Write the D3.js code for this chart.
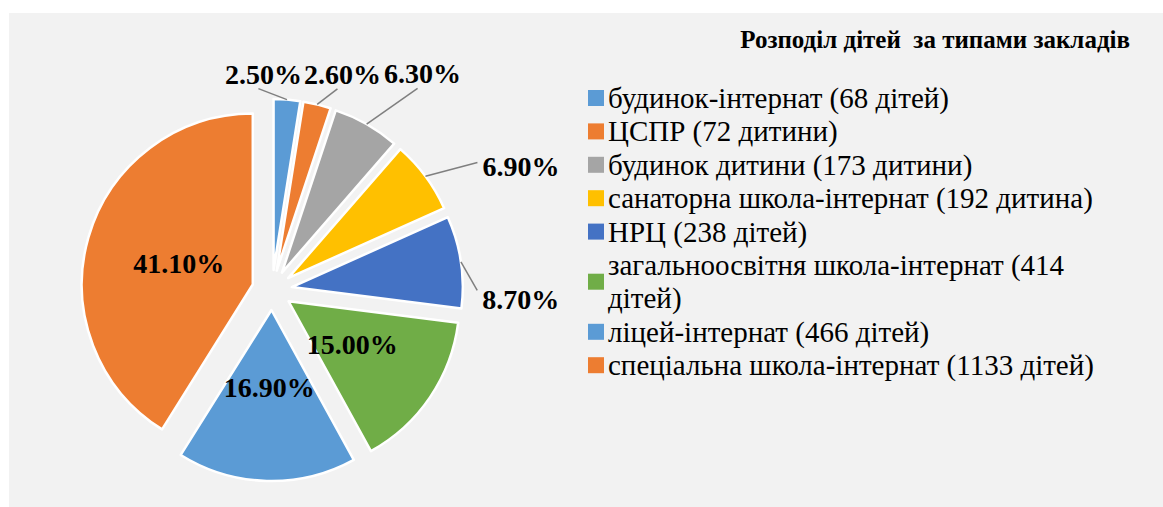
<!DOCTYPE html>
<html lang="uk"><head><meta charset="utf-8">
<script src="https://cdn.jsdelivr.net/npm/d3@7/dist/d3.min.js"></script></head>
<body style="margin:0">
<script>
// data
var categories=["будинок-інтернат (68 дітей)","ЦСПР (72 дитини)","будинок дитини (173 дитини)",
	"санаторна школа-інтернат (192 дитина)","НРЦ (238 дітей)","загальноосвітня школа-інтернат (414 дітей)",
	"ліцей-інтернат (466 дітей)","спеціальна школа-інтернат (1133 дітей)"];
var shares=[2.5,2.6,6.3,6.9,8.7,15.0,16.9,41.1];
var colors=["#5b9bd5","#ed7d31","#a5a5a5","#ffc000","#4472c4","#70ad47","#5b9bd5","#ed7d31"];
var title="Розподіл дітей  за типами закладів";

var width=1163, height=507;
var cx=272, cy=290, radius=171, explode=20;
var insideLimit=12; // slices bigger than this get the label inside
// label shifts from the default outside spot (layout only)
var labelShift=[[-25,-8],[21,-13],[47,-35],[81,0],[42,40],[0,0],[0,0],[0,0]];
var serif="Liberation Serif";

var svg=d3.select("body").append("svg").attr("width",width).attr("height",height);
svg.append("rect").attr("x",9).attr("y",13).attr("width",width-9).attr("height",height-13).attr("fill","#f2f2f2");

// legend first, wraps long entries
var legX=588, legY=98, lineH=33.4, maxW=510, fs=29, line=0;
categories.forEach(function(c,i){
	var words=c.split(" "), rows=[], cur="";
	var probe=svg.append("text").attr("x",0).attr("y",-50).attr("font-size",fs).style("font-family",serif);
	words.forEach(function(w){
		var next=cur?cur+" "+w:w;
		probe.text(next);
		if(probe.node().getComputedTextLength()>maxW && cur){rows.push(cur); cur=w;}
		else cur=next;
	});
	rows.push(cur); probe.remove();
	var y0=legY+line*lineH;
	var ymid=y0+(rows.length-1)*lineH/2;
	svg.append("rect").attr("x",legX).attr("y",ymid-8).attr("width",16).attr("height",16).attr("fill",colors[i]);
	rows.forEach(function(r,k){
		svg.append("text").attr("x",legX+20).attr("y",y0+k*lineH+10).attr("font-size",fs)
			.style("font-family",serif).text(r);
	});
	line+=rows.length;
});

// title
svg.append("text").attr("x",1130).attr("y",48).attr("text-anchor","end").attr("font-size",25)
	.style("font-family",serif).style("font-weight","bold").style("white-space","pre").text(title);

var pie=d3.pie().sort(null).value(function(d){return d;});
var arc=d3.arc().innerRadius(0).outerRadius(radius);
var arcs=pie(shares);

var mid=function(d){return (d.startAngle+d.endAngle)/2;};
var dirOf=function(d){var a=mid(d); return [Math.sin(a),-Math.cos(a)];};
var apexOf=function(d){var v=dirOf(d); return [cx+explode*v[0], cy+explode*v[1]];};

svg.append("g").selectAll("path").data(arcs).enter().append("path")
	.attr("d",arc)
	.attr("transform",function(d){var p=apexOf(d); return "translate("+p[0]+","+p[1]+")";})
	.attr("fill",function(d,i){return colors[i];})
	.attr("stroke","#fff").attr("stroke-width",2.5).attr("stroke-linejoin","round");

// data labels
arcs.forEach(function(d,i){
	var p=apexOf(d), v=dirOf(d), txt=shares[i].toFixed(2)+"%";
	if(shares[i]>insideLimit){
		var r=radius*0.45;
		svg.append("text").attr("x",p[0]+r*v[0]).attr("y",p[1]+r*v[1]+10).attr("font-size",28)
			.attr("text-anchor","middle").style("font-family",serif).style("font-weight","bold").text(txt);
		return;
	}
	var ro=radius+18;
	var lx=p[0]+ro*v[0]+labelShift[i][0], ly=p[1]+ro*v[1]+labelShift[i][1];
	var t=svg.append("text").attr("x",lx).attr("y",ly+10).attr("font-size",28)
		.attr("text-anchor","middle").style("font-family",serif).style("font-weight","bold").text(txt);
	var b=t.node().getBBox();
	var top=mid(d)<Math.PI/4;
	// right side labels are left aligned to their spot
	if(!top){t.attr("text-anchor","start").attr("x",lx-b.width/2); b=t.node().getBBox();}
	var sx=p[0]+radius*v[0], sy=p[1]+radius*v[1];
	var ex, ey;
	if(top){ex=b.x+b.width/2-5; ey=ly+15;}
	else {ex=b.x-5; ey=Math.max(b.y+6,Math.min(ly-3,sy));}
	svg.append("line").attr("x1",sx).attr("y1",sy).attr("x2",ex).attr("y2",ey)
		.attr("stroke","#7f7f7f").attr("stroke-width",1.5);
});
</script></body></html>
